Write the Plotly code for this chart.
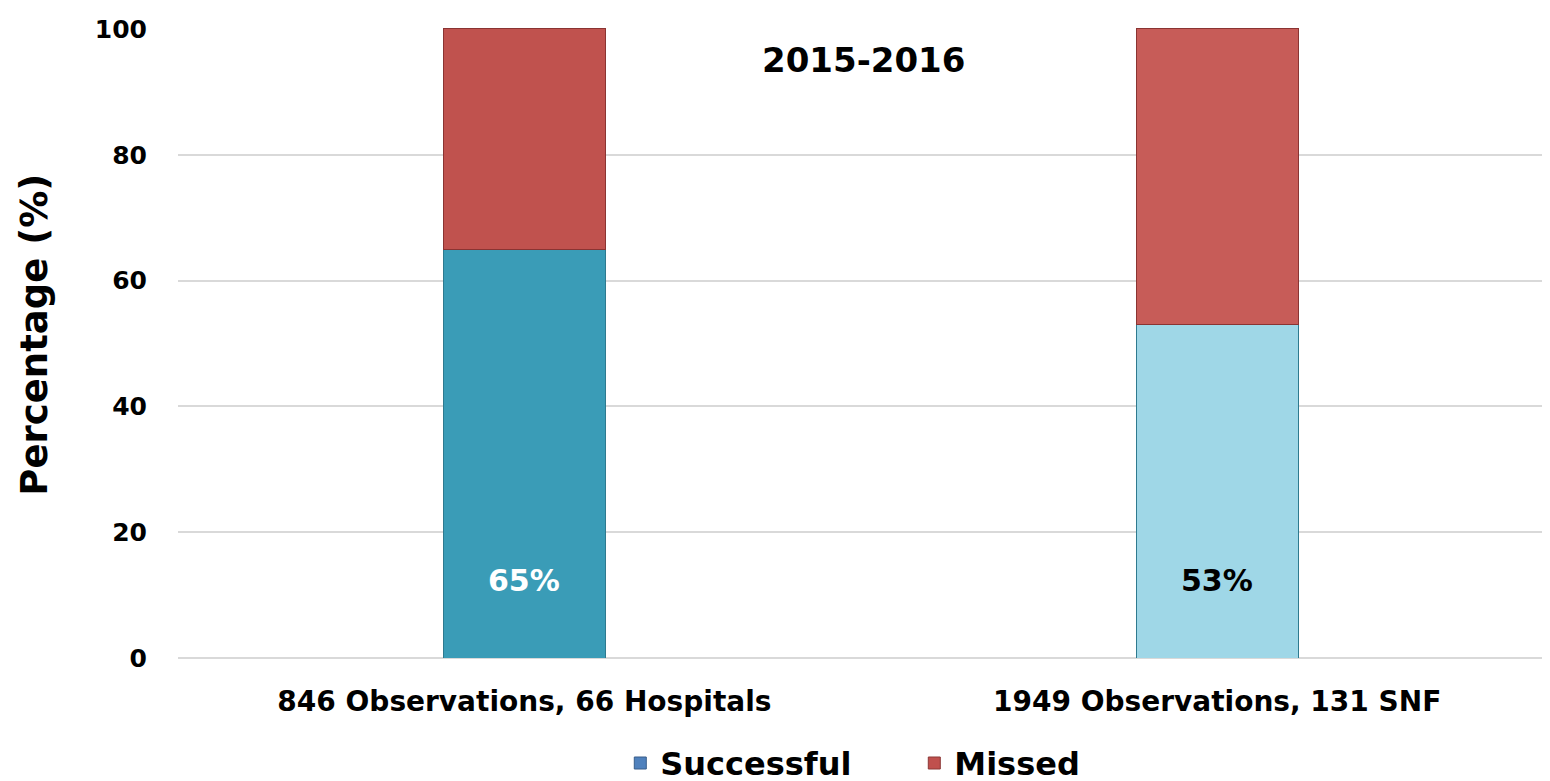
import plotly.graph_objects as go

categories = ["846 Observations, 66 Hospitals", "1949 Observations, 131 SNF"]
successful = [65, 53]
missed = [35, 47]
labels = ["65%", "53%"]
period = "2015-2016"

FONT = "DejaVu Sans"


def main():
    fig = go.Figure()

    fig.add_trace(go.Bar(
        x=categories, y=successful, name="Successful", showlegend=False,
        marker=dict(color=["#3a9cb7", "#9fd7e7"], line=dict(color="#2e7a8f", width=1)),
        width=0.234,
    ))
    fig.add_trace(go.Bar(
        x=categories, y=missed, name="Missed", showlegend=False,
        marker=dict(color=["#c0524e", "#c75c58"], line=dict(color="#8a3432", width=1)),
        width=0.234,
    ))

    # legend-only entries (legend keys use the standard blue/red)
    fig.add_trace(go.Bar(x=[None], y=[None], name="Successful",
                         marker=dict(color="#4f81bd", line=dict(color="#385d8a", width=1))))
    fig.add_trace(go.Bar(x=[None], y=[None], name="Missed",
                         marker=dict(color="#c0504d", line=dict(color="#8c3836", width=1))))

    label_colors = ["white", "black"]
    for cat, lab, col in zip(categories, labels, label_colors):
        fig.add_annotation(x=cat, y=12.4, text=lab, showarrow=False,
                           font=dict(family=FONT, size=30, color=col, weight="bold"))

    fig.add_annotation(x=0.497, y=0.949, xref="paper", yref="paper", text=period,
                       showarrow=False, xanchor="center", yanchor="middle",
                       font=dict(family=FONT, size=34, color="black", weight="bold"))

    # y-axis title as an annotation so it can sit a little above centre
    fig.add_annotation(x=-0.104, y=0.514, xref="paper", yref="paper",
                       text="Percentage (%)", textangle=-90, showarrow=False,
                       xanchor="center", yanchor="middle",
                       font=dict(family=FONT, size=37, color="black", weight="bold"))

    # figure is a bit taller than the window so the legend never pushes the margins
    fig.update_layout(
        barmode="stack",
        width=1550, height=790,
        margin=dict(l=170, r=0, t=20, b=140),
        plot_bgcolor="white", paper_bgcolor="white",
        font=dict(family=FONT, color="black"),
        legend=dict(orientation="h", x=0.3205, xanchor="left", y=-0.167, yanchor="middle",
                    font=dict(family=FONT, size=32, weight="bold"),
                    itemwidth=30, entrywidth=249, traceorder="normal"),
        xaxis=dict(range=[-0.5, 1.492], showgrid=False, showline=False, automargin=False,
                   ticklabelstandoff=24,
                   tickfont=dict(family=FONT, size=28, weight="bold")),
        yaxis=dict(range=[0, 100.15], dtick=20, showgrid=True, gridcolor="#d9d9d9",
                   gridwidth=1.5, zeroline=True, zerolinecolor="#d9d9d9", zerolinewidth=1.5,
                   showline=False, automargin=False,
                   ticklabelstandoff=30,
                   tickfont=dict(family=FONT, size=25, weight="bold")),
    )

    fig.write_html("out.html")


if __name__ == "__main__":
    main()
